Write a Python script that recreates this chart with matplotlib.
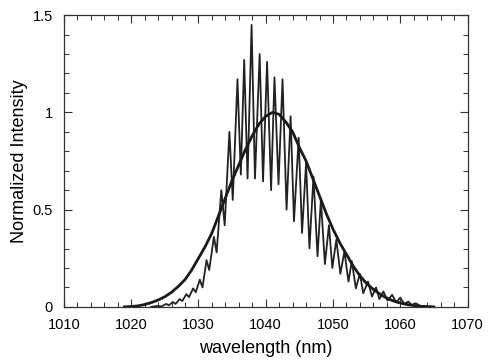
import matplotlib
matplotlib.use("Agg")
import matplotlib.pyplot as plt
from matplotlib.ticker import MultipleLocator, FixedLocator

plt.rcParams['font.family'] = ['Liberation Sans', 'DejaVu Sans']

# smooth (reference) spectrum, read every 1 nm
smooth_wl = [1019, 1020, 1021, 1022, 1023, 1024, 1025, 1026, 1027, 1028, 1029,
             1030, 1031, 1032, 1033, 1034, 1035, 1036, 1037, 1038, 1039, 1040,
             1041, 1042, 1043, 1044, 1045, 1046, 1047, 1048, 1049, 1050, 1051,
             1052, 1053, 1054, 1055, 1056, 1057, 1058, 1059, 1060, 1061, 1062,
             1063, 1064, 1065]
smooth_int = [0.000, 0.002, 0.005, 0.012, 0.022, 0.035, 0.052, 0.075, 0.105, 0.14, 0.19,
              0.25, 0.31, 0.38, 0.47, 0.56, 0.65, 0.73, 0.81, 0.88, 0.94, 0.98,
              1.00, 0.99, 0.95, 0.90, 0.82, 0.75, 0.66, 0.57, 0.48, 0.40, 0.33,
              0.27, 0.21, 0.16, 0.12, 0.09, 0.065, 0.045, 0.030, 0.020, 0.012, 0.007,
              0.003, 0.001, 0.0]

# modulated spectrum: alternating fringe maxima / minima
fringe_wl = [1023.0, 1024.0, 1024.5, 1025.2, 1025.6, 1026.2, 1026.6, 1027.2, 1027.6,
             1028.2, 1028.6, 1029.2, 1029.6, 1030.2, 1030.6, 1031.2, 1031.6, 1032.3,
             1032.7, 1033.4, 1033.9, 1034.6, 1035.1, 1035.8, 1036.3, 1036.8, 1037.3,
             1037.9, 1038.4, 1039.1, 1039.6, 1040.2, 1040.8, 1041.3, 1041.9, 1042.5,
             1043.1, 1043.7, 1044.2, 1044.9, 1045.4, 1046.0, 1046.5, 1047.1, 1047.7,
             1048.2, 1048.8, 1049.4, 1049.9, 1050.5, 1051.1, 1051.7, 1052.3, 1052.8,
             1053.4, 1054.0, 1054.5, 1055.2, 1055.8, 1056.4, 1056.9, 1057.5, 1058.1,
             1058.8, 1059.4, 1060.0, 1060.6, 1061.2, 1061.7, 1062.3, 1063.0, 1064.0,
             1065.0]
fringe_int = [0.0, 0.005, 0.002, 0.015, 0.008, 0.025, 0.015, 0.040, 0.030,
              0.065, 0.050, 0.095, 0.075, 0.14, 0.10, 0.24, 0.19, 0.36,
              0.28, 0.60, 0.42, 0.90, 0.55, 1.17, 0.68, 1.27, 0.66,
              1.45, 0.66, 1.30, 0.645, 1.26, 0.60, 1.18, 0.63, 1.17,
              0.50, 0.98, 0.44, 0.87, 0.38, 0.74, 0.30, 0.67, 0.26,
              0.55, 0.22, 0.42, 0.20, 0.345, 0.17, 0.285, 0.13, 0.235,
              0.095, 0.17, 0.07, 0.13, 0.053, 0.10, 0.04, 0.079, 0.032,
              0.062, 0.022, 0.048, 0.015, 0.027, 0.010, 0.018, 0.005, 0.002,
              0.0]

fig = plt.figure(figsize=(4.88, 3.61), dpi=100)
ax = fig.add_axes([0.131, 0.150, 0.827, 0.808])

ax.plot(fringe_wl, fringe_int, color='#222222', lw=1.3)
ax.plot(smooth_wl, smooth_int, color='#1a1a1a', lw=2.0)

ax.set_xlim(1010, 1070)
ax.set_ylim(0, 1.5)
ax.xaxis.set_major_locator(MultipleLocator(10))
ax.xaxis.set_minor_locator(MultipleLocator(2))
ax.yaxis.set_major_locator(FixedLocator([0, 0.5, 1, 1.5]))
ax.yaxis.set_minor_locator(MultipleLocator(0.1))
ax.set_yticklabels(['0', '0.5', '1', '1.5'])

ax.tick_params(which='both', direction='in', top=True, right=True, color='#333333')
ax.tick_params(which='major', length=6, width=0.8, labelsize=10.5, pad=8)
ax.tick_params(which='minor', length=3.5, width=0.7)
for s in ax.spines.values():
    s.set_color('#333333')
    s.set_linewidth(0.9)

ax.set_xlabel('wavelength (nm)', fontsize=13, labelpad=6)
ax.set_ylabel('Normalized Intensity', fontsize=13, labelpad=3)

fig.savefig('out.png', dpi=100)
